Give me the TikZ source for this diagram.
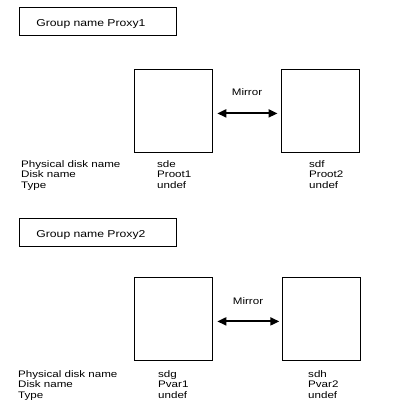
\documentclass[tikz,border=0pt]{standalone}
\usepackage{fontspec}
\setmainfont{Liberation Sans}[FakeStretch=1.22]
\usetikzlibrary{arrows.meta,positioning}
\tikzset{
  groupbox/.style={draw=black,line width=0.8pt,anchor=north west,minimum width=157pt,minimum height=28pt,
    inner xsep=17pt,inner ysep=0pt,text width=123pt,align=left,text height=11pt,text depth=0pt,
    font=\fontsize{10}{12}\selectfont},
  diskbox/.style={draw=black,line width=0.8pt,anchor=north west,minimum width=78pt,minimum height=83pt,inner sep=0pt},
  infotext/.style={inner sep=0pt,align=left,anchor=base west,font=\fontsize{9.5}{10.8}\selectfont},
  mirrortext/.style={inner sep=0pt,anchor=base,font=\fontsize{9.5}{10.8}\selectfont},
  mirrorarrow/.style={line width=1.9pt,{Triangle[length=9pt,width=8pt]}-{Triangle[length=9pt,width=8pt]}},
}
\begin{document}
\begin{tikzpicture}[x=1pt,y=-1pt]
\useasboundingbox (0,0) rectangle (420,420);
% group Proxy1
\node[groupbox] (grp1) at (19,7) {Group name Proxy1};
\node[diskbox] (dskE) at (134,69) {};
\node[diskbox] (dskF) at (281,69) {};
\draw[mirrorarrow,shorten <=4.5pt,shorten >=3.5pt] ([yshift=-2.5pt]dskE.east) -- ([yshift=-2.5pt]dskF.west);
\node[mirrortext] (mir1) at (247,95) {Mirror};
% base anchor sits on the last line
\node[infotext] (lbl1) at (21,188.6) {Physical disk name\\Disk name\\Type};
\node[infotext] (valE) at (157,188.6) {sde\\Proot1\\undef};
\node[infotext] (valF) at (309,188.6) {sdf\\Proot2\\undef};
% group Proxy2
\node[groupbox] (grp2) at (19,218) {Group name Proxy2};
\node[diskbox] (dskG) at (134,277) {};
\node[diskbox] (dskH) at (282,277) {};
\draw[mirrorarrow,shorten <=4.5pt,shorten >=2.7pt] ([yshift=-2.5pt]dskG.east) -- ([yshift=-2.5pt]dskH.west);
\node[mirrortext] (mir2) at (248,304.5) {Mirror};
\node[infotext] (lbl2) at (18,398.6) {Physical disk name\\Disk name\\Type};
\node[infotext] (valG) at (158,398.6) {sdg\\Pvar1\\undef};
\node[infotext] (valH) at (308,398.6) {sdh\\Pvar2\\undef};
\end{tikzpicture}
\end{document}
